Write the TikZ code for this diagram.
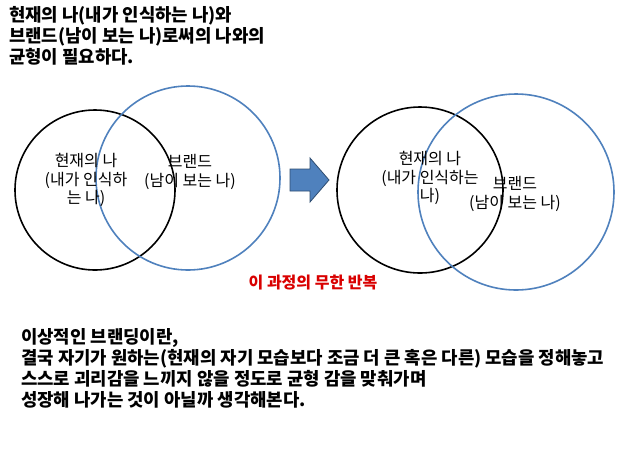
\documentclass[tikz,border=0pt]{standalone}
\usepackage{fontspec}
\setmainfont{Noto Sans CJK KR}
\definecolor{cblue}{HTML}{4F81BD}
\tikzset{txt/.style={font=\fontsize{16}{18.5}\selectfont,inner sep=0pt,align=center},
 big/.style={font=\fontsize{17.8}{21}\selectfont\bfseries,inner sep=0pt,align=left,anchor=north west},
 bc/.style={draw=black,line width=1.6pt},
 uc/.style={draw=cblue,line width=1.6pt}}
\begin{document}
\begin{tikzpicture}[x=1pt,y=-1pt]
\useasboundingbox[fill=white] (0,0) rectangle (624,467);
\node[big] (top) at (9,6) {현재의 나(내가 인식하는 나)와\\브랜드(남이 보는 나)로써의 나와의\\균형이 필요하다.};
\draw[bc] (95,190) circle (80);
\draw[uc] (188,178) circle (92);
\node[txt] (l1) at (86,180) {현재의 나\\(내가 인식하\\는 나)};
\node[txt] (l2) at (190,172) {브랜드\\(남이 보는 나)};
\coordinate (arr) at (290,180);
\draw[draw=cblue!60!black,fill=cblue,line width=0.8pt] (arr) ++(0,-11) -- ++(20,0) -- ++(0,-11) -- ++(19,22) -- ++(-19,22) -- ++(0,-11) -- ++(-20,0) -- cycle;
\draw[bc] (420,190) circle (83);
\draw[uc] (516,192) circle (98);
\node[txt] (r1) at (430,178) {현재의 나\\(내가 인식하는\\나)};
\node[txt] (r2) at (515,194) {브랜드\\(남이 보는 나)};
\node[font=\fontsize{16}{18}\selectfont\bfseries,text=red!85!black,inner sep=0pt] (rep) at (313,283) {이 과정의 무한 반복};
\node[big] (bot) at (21,328) {이상적인 브랜딩이란,\\결국 자기가 원하는(현재의 자기 모습보다 조금 더 큰 혹은 다른) 모습을 정해놓고\\스스로 괴리감을 느끼지 않을 정도로 균형 감을 맞춰가며\\성장해 나가는 것이 아닐까 생각해본다.};
\end{tikzpicture}
\end{document}
